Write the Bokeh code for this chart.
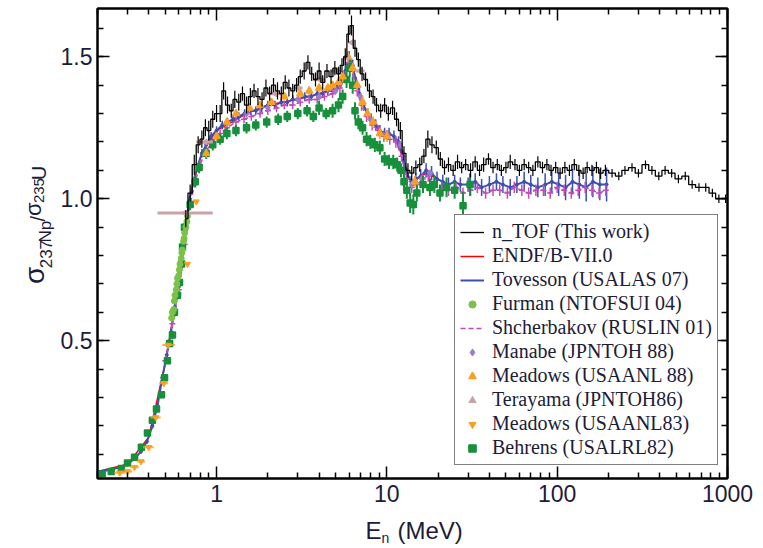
from math import pi

from bokeh.plotting import figure
from bokeh.layouts import row, column
from bokeh.models import (FixedTicker, PrintfTickFormatter, CustomJSTickFormatter, LogAxis,
                          LinearAxis, Legend, LegendItem)
from bokeh.core.properties import value
from bokeh.embed import file_html
from bokeh.resources import INLINE

# ---------------------------------------------------------------------------
# 237Np / 235U fission cross-section ratio versus neutron energy (MeV)
# ---------------------------------------------------------------------------

# n_TOF (This work)
ntof_e = [0.66, 0.70, 0.74, 0.78, 0.82, 0.86, 0.90, 0.95, 1.00, 1.05,
          1.10, 1.16, 1.22, 1.28, 1.35, 1.42, 1.50, 1.58, 1.66, 1.75,
          1.85, 1.95, 2.05, 2.16, 2.28, 2.40, 2.53, 2.66, 2.80, 2.95,
          3.10, 3.27, 3.44, 3.62, 3.81, 4.00, 4.20, 4.45, 4.70, 4.95,
          5.20, 5.45, 5.70, 5.95, 6.20, 6.50, 6.80, 7.15, 7.50, 7.90,
          8.30, 8.70, 9.20, 9.70, 10.2, 10.8, 11.4, 12.0, 12.6, 13.3,
          14.0, 14.8, 15.6, 16.5, 17.4, 18.4, 19.5, 20.6, 21.8, 23.0,
          24.5, 26.0, 27.5, 29.0, 31.0, 33.0, 35.0, 37.0, 39.5, 42.0,
          44.5, 47.0, 50.0, 53.0, 56.5, 60.0, 64.0, 68.0, 72.0, 77.0,
          82.0, 87.0, 92.0, 98.0, 104, 111, 118, 126, 134, 142,
          150, 160, 170, 180, 192, 210, 230, 250, 275, 300,
          330, 360, 395, 430, 470, 515, 565, 620, 680, 745,
          815, 890, 975]
ntof_r = [0.93, 1.02, 1.12, 1.19, 1.21, 1.25, 1.24, 1.28, 1.30, 1.30,
          1.38, 1.33, 1.31, 1.35, 1.34, 1.37, 1.33, 1.36, 1.38, 1.36,
          1.35, 1.39, 1.37, 1.40, 1.38, 1.37, 1.41, 1.39, 1.38, 1.40,
          1.43, 1.45, 1.48, 1.44, 1.42, 1.45, 1.41, 1.45, 1.43, 1.46,
          1.44, 1.47, 1.50, 1.58, 1.61, 1.53, 1.49, 1.44, 1.42, 1.38,
          1.36, 1.33, 1.31, 1.33, 1.30, 1.32, 1.28, 1.24, 1.16, 1.10,
          1.09, 1.11, 1.12, 1.15, 1.21, 1.19, 1.18, 1.14, 1.11, 1.12,
          1.10, 1.13, 1.11, 1.12, 1.10, 1.13, 1.10, 1.12, 1.14, 1.11,
          1.12, 1.10, 1.11, 1.13, 1.12, 1.10, 1.12, 1.11, 1.10, 1.13,
          1.11, 1.12, 1.10, 1.11, 1.09, 1.11, 1.10, 1.12, 1.10, 1.09,
          1.11, 1.10, 1.11, 1.09, 1.10, 1.09, 1.08, 1.10, 1.11, 1.09,
          1.12, 1.10, 1.08, 1.10, 1.09, 1.07, 1.08, 1.05, 1.04, 1.04,
          1.02, 1.00, 1.00]
ntof_err = [0.03, 0.03, 0.035, 0.03, 0.03, 0.03, 0.035, 0.03, 0.03, 0.03,
            0.03, 0.03, 0.025, 0.03, 0.03, 0.025, 0.03, 0.03, 0.025, 0.03,
            0.025, 0.03, 0.025, 0.025, 0.03, 0.025, 0.025, 0.03, 0.025, 0.025,
            0.025, 0.03, 0.025, 0.025, 0.025, 0.03, 0.025, 0.025, 0.025, 0.025,
            0.025, 0.025, 0.03, 0.03, 0.035, 0.03, 0.025, 0.025, 0.025, 0.025,
            0.025, 0.025, 0.025, 0.025, 0.025, 0.025, 0.025, 0.03, 0.025, 0.025,
            0.025, 0.025, 0.025, 0.025, 0.03, 0.03, 0.025, 0.025, 0.025, 0.025,
            0.02, 0.025, 0.02, 0.02, 0.025, 0.02, 0.02, 0.025, 0.02, 0.02,
            0.02, 0.02, 0.02, 0.025, 0.02, 0.02, 0.02, 0.02, 0.02, 0.02,
            0.02, 0.02, 0.02, 0.02, 0.02, 0.02, 0.02, 0.02, 0.02, 0.02,
            0.02, 0.02, 0.02, 0.02, 0.02, 0.015, 0.015, 0.015, 0.015, 0.015,
            0.015, 0.015, 0.015, 0.015, 0.015, 0.015, 0.015, 0.015, 0.015, 0.015,
            0.015, 0.015, 0.015]

# ENDF/B-VII.0 evaluation
endf_e = [0.2, 0.3, 0.4, 0.5, 0.6, 0.7, 0.8, 0.9, 1.0, 1.5, 2.0, 3.0, 4.0, 5.0,
          5.5, 6.0, 6.5, 7.0, 8.0, 9.0, 10.0, 11.0, 12.0, 13.0, 14.0, 15.0, 17.0, 20.0]
endf_r = [0.04, 0.065, 0.16, 0.42, 0.70, 1.01, 1.14, 1.20, 1.24, 1.30, 1.33, 1.35, 1.37, 1.39,
          1.43, 1.49, 1.43, 1.35, 1.28, 1.24, 1.23, 1.22, 1.17, 1.09, 1.06, 1.07, 1.09, 1.07]

# Tovesson (USALAS 07)
tov_e = [0.20, 0.24, 0.27, 0.30, 0.33, 0.36, 0.39, 0.42, 0.45, 0.48,
         0.51, 0.54, 0.57, 0.60, 0.63, 0.66, 0.69, 0.73, 0.77, 0.82,
         0.87, 0.93, 1.00, 1.08, 1.16, 1.25, 1.35, 1.46, 1.58, 1.70,
         1.84, 2.0, 2.2, 2.4, 2.6, 2.8, 3.0, 3.3, 3.6, 3.9,
         4.2, 4.5, 4.8, 5.1, 5.4, 5.7, 6.0, 6.3, 6.6, 6.9,
         7.3, 7.7, 8.1, 8.6, 9.1, 9.7, 10.3, 11.0, 11.7, 12.4,
         13.1, 13.9, 14.8, 15.8, 17.0, 18.3, 19.7, 21.3, 23, 25,
         27, 30, 33, 36, 40, 44, 48, 53, 58, 64,
         70, 77, 85, 93, 102, 112, 123, 135, 148, 162,
         178, 195]
tov_r = [0.040, 0.045, 0.055, 0.065, 0.085, 0.11, 0.145, 0.20, 0.27, 0.37,
         0.45, 0.53, 0.62, 0.69, 0.78, 0.90, 0.99, 1.06, 1.11, 1.16,
         1.19, 1.22, 1.24, 1.26, 1.27, 1.28, 1.29, 1.30, 1.31, 1.31,
         1.32, 1.33, 1.33, 1.34, 1.34, 1.35, 1.35, 1.36, 1.36, 1.37,
         1.37, 1.38, 1.38, 1.39, 1.41, 1.45, 1.50, 1.47, 1.41, 1.37,
         1.33, 1.30, 1.28, 1.26, 1.24, 1.23, 1.23, 1.22, 1.20, 1.15,
         1.09, 1.06, 1.07, 1.08, 1.10, 1.09, 1.07, 1.06, 1.05, 1.06,
         1.05, 1.05, 1.06, 1.04, 1.05, 1.06, 1.05, 1.04, 1.05, 1.06,
         1.05, 1.04, 1.05, 1.06, 1.05, 1.04, 1.06, 1.05, 1.04, 1.06,
         1.05, 1.05]
tov_err = [0.005, 0.005, 0.005, 0.005, 0.006, 0.007, 0.008, 0.01, 0.01, 0.012,
           0.012, 0.012, 0.015, 0.015, 0.015, 0.015, 0.015, 0.015, 0.015, 0.015,
           0.015, 0.015, 0.015, 0.015, 0.015, 0.015, 0.015, 0.015, 0.015, 0.015,
           0.015, 0.015, 0.015, 0.015, 0.015, 0.015, 0.015, 0.015, 0.015, 0.015,
           0.015, 0.015, 0.015, 0.015, 0.015, 0.02, 0.02, 0.02, 0.02, 0.02,
           0.02, 0.02, 0.02, 0.02, 0.02, 0.02, 0.02, 0.02, 0.02, 0.02,
           0.02, 0.02, 0.02, 0.025, 0.025, 0.025, 0.025, 0.025, 0.025, 0.025,
           0.025, 0.025, 0.03, 0.03, 0.03, 0.03, 0.03, 0.03, 0.03, 0.035,
           0.035, 0.035, 0.04, 0.04, 0.04, 0.045, 0.045, 0.05, 0.05, 0.055,
           0.055, 0.06]

# Furman (NTOFSUI 04)
fur_e = [0.545, 0.55, 0.56, 0.565, 0.57, 0.58, 0.585, 0.59, 0.60, 0.605,
         0.61, 0.62, 0.625, 0.63, 0.64, 0.645, 0.65, 0.66, 0.67, 0.675]
fur_r = [0.58, 0.60, 0.61, 0.64, 0.66, 0.68, 0.70, 0.72, 0.73, 0.75,
         0.77, 0.79, 0.81, 0.82, 0.85, 0.86, 0.88, 0.90, 0.92, 0.94]

# Shcherbakov (RUSLIN 01)
shc_e = [0.50, 0.55, 0.60, 0.65, 0.70, 0.75, 0.80, 0.87, 0.95, 1.05,
         1.15, 1.3, 1.45, 1.6, 1.8, 2.0, 2.25, 2.5, 2.8, 3.1,
         3.5, 3.9, 4.3, 4.8, 5.3, 5.7, 6.0, 6.3, 6.7, 7.1,
         7.6, 8.2, 8.9, 9.6, 10.4, 11.3, 12.2, 13.0, 14.0, 15.0,
         16.2, 17.5, 19, 21, 23, 25.5, 28, 31, 34, 38,
         42, 46, 51, 56, 62, 68, 75, 83, 91, 100,
         110, 121, 133, 146, 160, 176, 193]
shc_r = [0.43, 0.56, 0.68, 0.84, 0.98, 1.06, 1.12, 1.17, 1.20, 1.23,
         1.25, 1.27, 1.28, 1.29, 1.30, 1.31, 1.32, 1.33, 1.33, 1.34,
         1.35, 1.35, 1.36, 1.37, 1.39, 1.43, 1.48, 1.45, 1.38, 1.33,
         1.29, 1.26, 1.24, 1.22, 1.21, 1.20, 1.15, 1.07, 1.04, 1.05,
         1.07, 1.08, 1.05, 1.04, 1.03, 1.04, 1.02, 1.03, 1.04, 1.02,
         1.03, 1.03, 1.02, 1.04, 1.03, 1.02, 1.03, 1.03, 1.02, 1.04,
         1.03, 1.02, 1.03, 1.04, 1.03, 1.02, 1.03]
shc_err = [0.01, 0.012, 0.015, 0.015, 0.015, 0.015, 0.015, 0.015, 0.015, 0.015,
           0.015, 0.015, 0.015, 0.015, 0.015, 0.015, 0.015, 0.015, 0.015, 0.015,
           0.015, 0.015, 0.015, 0.015, 0.02, 0.02, 0.02, 0.02, 0.02, 0.02,
           0.02, 0.02, 0.02, 0.02, 0.02, 0.02, 0.02, 0.02, 0.02, 0.02,
           0.02, 0.02, 0.02, 0.02, 0.02, 0.02, 0.02, 0.02, 0.02, 0.02,
           0.02, 0.02, 0.02, 0.02, 0.02, 0.02, 0.02, 0.02, 0.02, 0.02,
           0.02, 0.02, 0.02, 0.02, 0.02, 0.02, 0.02]

# Manabe (JPNTOH 88)
man_e = [1.5, 2.0, 3.0, 4.0, 5.0, 6.0, 7.0, 8.0, 10, 12, 14, 16, 18]
man_r = [1.30, 1.32, 1.35, 1.36, 1.38, 1.49, 1.36, 1.28, 1.23, 1.19, 1.05, 1.07, 1.09]

# Meadows (USAANL 88)
m88_e = [0.87, 1.0, 1.15, 1.3, 1.56, 1.8, 2.1, 2.5, 3.1, 3.5, 4.0, 4.5,
         4.8, 5.2, 5.5, 5.9, 6.3, 6.7, 7.2, 7.7, 8.3, 9.1, 10.0, 14.6]
m88_r = [1.16, 1.22, 1.27, 1.30, 1.32, 1.33, 1.34, 1.36, 1.37, 1.38, 1.39, 1.39,
         1.40, 1.41, 1.43, 1.50, 1.46, 1.40, 1.34, 1.30, 1.27, 1.23, 1.22, 1.06]
m88_err = [0.015, 0.015, 0.015, 0.015, 0.015, 0.015, 0.015, 0.015, 0.015, 0.015, 0.015, 0.015,
           0.015, 0.015, 0.02, 0.02, 0.02, 0.02, 0.02, 0.02, 0.02, 0.02, 0.02, 0.02]

# Terayama (JPNTOH86)
ter_e = [0.65, 0.86, 2.2, 3.0, 4.0, 5.0, 5.8, 6.2, 7.0]
ter_r = [0.95, 1.20, 1.37, 1.39, 1.42, 1.45, 1.50, 1.55, 1.45]
ter_lo = [0.45, 0.76, 2.0, 2.8, 3.7, 4.7, 5.6, 6.0, 6.6]
ter_hi = [0.95, 0.95, 2.4, 3.2, 4.3, 5.3, 6.0, 6.4, 7.4]

# Meadows (USAANL83)
m83_e = [0.27, 0.30, 0.33, 0.36, 0.40, 0.44, 0.49, 0.52, 0.675, 0.76]
m83_r = [0.035, 0.04, 0.055, 0.075, 0.125, 0.23, 0.35, 0.485, 0.77, 0.99]
m83_lo = [0.25, 0.28, 0.31, 0.34, 0.37, 0.41, 0.46, 0.48, 0.66, 0.74]
m83_hi = [0.29, 0.32, 0.35, 0.38, 0.43, 0.47, 0.52, 0.57, 0.69, 0.78]

# Behrens (USALRL82)
beh_e = [0.213, 0.241, 0.276, 0.30, 0.33, 0.362, 0.393, 0.42, 0.444, 0.475,
         0.495, 0.515, 0.53, 0.551, 0.566, 0.59, 0.606, 0.623, 0.631, 0.648,
         0.70, 0.75, 0.79, 0.87, 0.95, 1.05, 1.15, 1.3, 1.5, 1.7,
         1.97, 2.3, 2.6, 3.0, 3.4, 3.7, 4.0, 4.4, 4.8, 5.2,
         5.5, 5.8, 6.06, 6.3, 6.5, 6.8, 7.2, 7.6, 8.0, 8.5,
         9.1, 9.7, 10.3, 10.9, 11.5, 12.1, 12.6, 13.1, 13.7, 14.3,
         15.0, 16.3, 17.9, 19.0, 20.5, 22.4, 25.0, 28.0, 30.8]
beh_r = [0.03, 0.04, 0.05, 0.07, 0.09, 0.125, 0.175, 0.22, 0.26, 0.31,
         0.37, 0.43, 0.49, 0.52, 0.60, 0.66, 0.705, 0.77, 0.83, 0.90,
         0.98, 1.06, 1.11, 1.16, 1.19, 1.21, 1.23, 1.24, 1.25, 1.26,
         1.27, 1.28, 1.29, 1.30, 1.31, 1.29, 1.32, 1.30, 1.31, 1.33,
         1.36, 1.42, 1.46, 1.40, 1.31, 1.27, 1.25, 1.21, 1.20, 1.19,
         1.18, 1.14, 1.13, 1.13, 1.12, 1.10, 1.06, 1.03, 0.985, 0.98,
         1.02, 1.05, 1.04, 1.05, 1.02, 1.04, 1.03, 0.975, 1.05]
beh_err = [0.008, 0.008, 0.008, 0.008, 0.008, 0.01, 0.01, 0.01, 0.01, 0.012,
           0.012, 0.012, 0.012, 0.015, 0.015, 0.015, 0.015, 0.015, 0.015, 0.015,
           0.02, 0.02, 0.02, 0.02, 0.02, 0.02, 0.02, 0.02, 0.02, 0.02,
           0.02, 0.02, 0.02, 0.02, 0.02, 0.02, 0.025, 0.02, 0.025, 0.025,
           0.025, 0.03, 0.03, 0.03, 0.03, 0.025, 0.025, 0.025, 0.025, 0.025,
           0.025, 0.025, 0.025, 0.025, 0.025, 0.025, 0.03, 0.03, 0.035, 0.035,
           0.03, 0.03, 0.03, 0.03, 0.03, 0.035, 0.03, 0.05, 0.04]

# axis ticks
x_major = [1, 10, 100, 1000]
x_minor = [m * 10.0 ** k for k in range(-1, 3) for m in range(2, 10)]
y_major = [0.5, 1.0, 1.5]
y_minor = [round(0.1 * i, 1) for i in range(1, 17)]

# colours
C_TOV = "#3d4fb0"
C_FUR = "#7cc24a"
C_SHC = "#c04cbc"
C_MAN = "#9b7dc9"
C_ORA = "#f7a024"
C_TER = "#c9a3a6"
C_BEH = "#17903c"
TEXT = "#1c1c38"

# page geometry: a title strip on the left, the plot, a title strip below
W_LEFT, H_BOTTOM = 55, 36
PAGE_W, PAGE_H = 763, 548

p = figure(width=PAGE_W - W_LEFT, height=PAGE_H - H_BOTTOM, x_axis_type="log",
           x_range=(0.2, 1000), y_range=(0.015, 1.67),
           output_backend="svg", toolbar_location=None,
           min_border_left=97 - W_LEFT, min_border_right=36, min_border_top=8,
           min_border_bottom=PAGE_H - H_BOTTOM - 478)
p.background_fill_color = "white"
p.border_fill_color = "white"
p.grid.visible = False
p.outline_line_color = "black"
p.outline_line_width = 2


def style_axis(ax):
    ax.axis_line_width = 2
    ax.axis_line_color = "black"
    ax.major_tick_in = 12
    ax.major_tick_out = 0
    ax.minor_tick_in = 6
    ax.minor_tick_out = 0
    ax.major_tick_line_width = 1.5
    ax.minor_tick_line_width = 1.5
    ax.major_tick_line_color = "black"
    ax.minor_tick_line_color = "black"
    ax.major_label_text_font = "Liberation Sans"
    ax.major_label_text_font_size = "23px"
    ax.major_label_text_color = TEXT


xa = p.xaxis[0]
xa.ticker = FixedTicker(ticks=x_major, minor_ticks=x_minor)
xa.formatter = PrintfTickFormatter(format="%d")
style_axis(xa)
xa.major_label_standoff = 6

ya = p.yaxis[0]
ya.ticker = FixedTicker(ticks=y_major, minor_ticks=y_minor)
ya.formatter = PrintfTickFormatter(format="%.1f")
style_axis(ya)
ya.major_label_standoff = 5

# mirrored tick marks on the top and right edges
top = LogAxis(ticker=FixedTicker(ticks=x_major, minor_ticks=x_minor),
              formatter=CustomJSTickFormatter(code="return ''"))
style_axis(top)
top.major_label_text_font_size = "1px"
top.major_label_standoff = 0
p.add_layout(top, "above")

right = LinearAxis(ticker=FixedTicker(ticks=y_major, minor_ticks=y_minor),
                   formatter=CustomJSTickFormatter(code="return ''"))
style_axis(right)
right.major_label_text_font_size = "1px"
right.major_label_standoff = 0
p.add_layout(right, "right")


def vbars(xs, ys, errs, color, width=1.0):
    p.segment(x0=xs, y0=[y - e for y, e in zip(ys, errs)], x1=xs,
              y1=[y + e for y, e in zip(ys, errs)], line_color=color, line_width=width)


# ENDF evaluation underneath everything
r_endf = p.line(endf_e, endf_r, line_color="red", line_width=1.5)

# Tovesson
vbars(tov_e, tov_r, tov_err, C_TOV, 1.5)
r_tov = p.line(tov_e, tov_r, line_color=C_TOV, line_width=2)
p.scatter(tov_e, tov_r, marker="circle", size=3, color=C_TOV)

# Shcherbakov
vbars(shc_e, shc_r, shc_err, C_SHC, 1.5)
r_shc = p.line(shc_e, shc_r, line_color=C_SHC, line_width=1.5, line_dash="5 3")
p.scatter(shc_e, shc_r, marker="dash", size=6, line_color=C_SHC, line_width=1.5)

# Manabe
r_man = p.scatter(man_e, man_r, marker="diamond", size=7, color=C_MAN)

# Behrens
vbars(beh_e, beh_r, beh_err, C_BEH, 2)
r_beh = p.scatter(beh_e, beh_r, marker="square", size=6, line_color=C_BEH,
                  fill_color=C_BEH, line_width=1.5)

# Meadows 88
vbars(m88_e, m88_r, m88_err, C_ORA, 1.5)
r_m88 = p.scatter(m88_e, m88_r, marker="triangle", size=7, line_color=C_ORA,
                  fill_color=C_ORA, line_width=1.5)

# Meadows 83
p.segment(x0=m83_lo, y0=m83_r, x1=m83_hi, y1=m83_r, line_color=C_ORA, line_width=2, line_alpha=0.8)
r_m83 = p.scatter(m83_e, m83_r, marker="inverted_triangle", size=6, color=C_ORA)

# Furman
r_fur = p.scatter(fur_e, fur_r, marker="circle", size=6, color=C_FUR)

# Terayama
p.segment(x0=ter_lo, y0=ter_r, x1=ter_hi, y1=ter_r, line_color=C_TER, line_width=3)
r_ter = p.scatter(ter_e, ter_r, marker="triangle", angle=pi / 2, size=6, color=C_TER)

# n_TOF
vbars(ntof_e, ntof_r, ntof_err, "black", 1.2)
r_ntof = p.step(ntof_e, ntof_r, mode="center", line_color="black", line_width=1.3)

items = [
    ("n_TOF (This work)", r_ntof),
    ("ENDF/B-VII.0", r_endf),
    ("Tovesson (USALAS 07)", r_tov),
    ("Furman (NTOFSUI 04)", r_fur),
    ("Shcherbakov (RUSLIN 01)", r_shc),
    ("Manabe (JPNTOH 88)", r_man),
    ("Meadows (USAANL 88)", r_m88),
    ("Terayama (JPNTOH86)", r_ter),
    ("Meadows (USAANL83)", r_m83),
    ("Behrens (USALRL82)", r_beh),
]
legend = Legend(items=[LegendItem(label=t, renderers=[r]) for t, r in items],
                location=(357, 13), orientation="vertical")
legend.border_line_color = "black"
legend.border_line_width = 1.5
legend.background_fill_color = "white"
legend.background_fill_alpha = 1.0
legend.label_text_font = "Liberation Serif"
legend.label_text_font_size = "20px"
legend.label_text_color = TEXT
legend.glyph_width = 24
legend.glyph_height = 18
legend.label_height = 18
legend.label_standoff = 8
legend.spacing = 1
legend.padding = 5
legend.margin = 0
p.add_layout(legend)


def strip(w, h):
    f = figure(width=w, height=h, x_range=(0, w), y_range=(0, h),
               output_backend="svg", toolbar_location=None,
               x_axis_location=None, y_axis_location=None,
               min_border_left=0, min_border_right=0, min_border_top=0, min_border_bottom=0)
    f.grid.visible = False
    f.outline_line_color = None
    f.background_fill_color = "white"
    f.border_fill_color = "white"
    return f


def put(f, h, txt, cx, cy, size, angle=0.0):
    f.text(x=[cx], y=[h - cy], text=[txt], angle=angle,
           text_font=value("Liberation Sans"), text_font_size=f"{size}px",
           text_color=TEXT, text_align="left", text_baseline="alphabetic")


# y title: sigma_237Np / sigma_235U, reading bottom to top
HY = PAGE_H - H_BOTTOM
ylab = strip(W_LEFT, HY)
put(ylab, HY, "σ", 34, 300, 28, pi / 2)
put(ylab, HY, "237", 45, 283, 17, pi / 2)
put(ylab, HY, "Np", 45, 255, 17, pi / 2)
put(ylab, HY, "/", 37, 232, 20, pi / 2)
put(ylab, HY, "σ", 33, 226, 22, pi / 2)
put(ylab, HY, "235", 38, 212, 15, pi / 2)
put(ylab, HY, "U", 38, 187, 20, pi / 2)

# x title: E_n (MeV)
xlab = strip(PAGE_W, H_BOTTOM)
Y0 = PAGE_H - H_BOTTOM
put(xlab, H_BOTTOM, "E", 365, 530 - Y0, 24)
put(xlab, H_BOTTOM, "n", 381, 537 - Y0, 14)
put(xlab, H_BOTTOM, "(MeV)", 397, 530 - Y0, 24)

page = column(row(ylab, p, spacing=0), xlab, spacing=0)

open("out.html", "w").write(file_html(page, INLINE))
